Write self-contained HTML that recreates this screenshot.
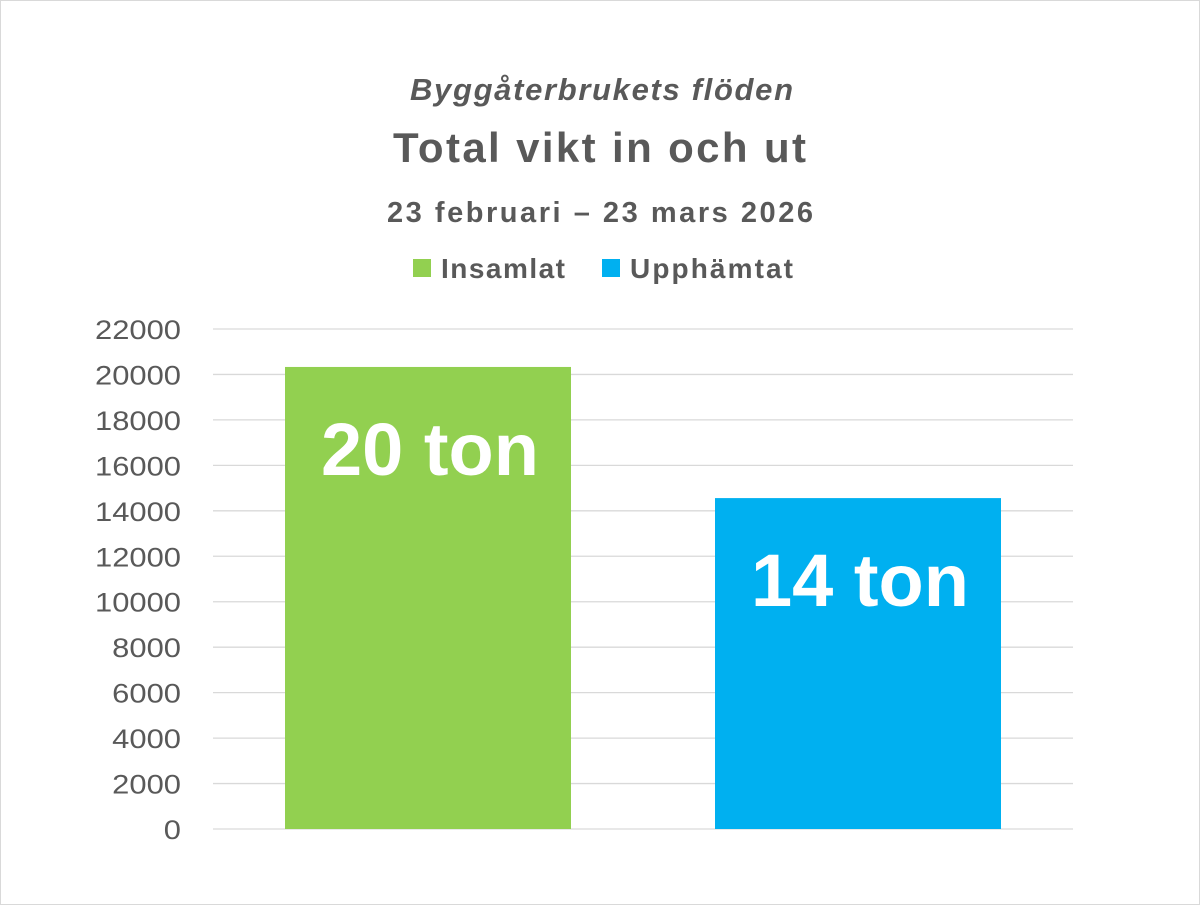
<!DOCTYPE html>
<html><head><meta charset="utf-8"><style>
body{margin:0;background:#fff;}
svg{display:block;font-family:"Liberation Sans",sans-serif;}
</style></head><body>
<svg id="chart" width="1200" height="905">
<rect x="0.5" y="0.5" width="1199" height="904" fill="#fff" stroke="#d9d9d9"/>
<text x="410" y="100" textLength="383" lengthAdjust="spacing" font-size="31" font-weight="bold" font-style="italic" fill="#595959">Byggåterbrukets flöden</text>
<text x="393" y="162" textLength="413" lengthAdjust="spacing" font-size="42" font-weight="bold" fill="#595959">Total vikt in och ut</text>
<text x="387" y="222" textLength="426" lengthAdjust="spacing" font-size="29" font-weight="bold" fill="#595959">23 februari – 23 mars 2026</text>
<g>
<rect x="413" y="259" width="18" height="18" fill="#92d050"/>
<text x="441" y="278" textLength="124" lengthAdjust="spacing" font-size="28" font-weight="bold" fill="#595959">Insamlat</text>
<rect x="602" y="259" width="18" height="18" fill="#00b0f0"/>
<text x="630" y="278" textLength="163" lengthAdjust="spacing" font-size="28" font-weight="bold" fill="#595959">Upphämtat</text>
</g>
<g id="grid"></g><g id="bars"></g>
</svg>
<script>
const categories = ["Insamlat", "Upphämtat"];
const values = [20330, 14560];
const labels = ["20 ton", "14 ton"];
const colors = ["#92d050", "#00b0f0"];
const ticks = [0,2000,4000,6000,8000,10000,12000,14000,16000,18000,20000,22000];
const NS="http://www.w3.org/2000/svg";
const x0=213,x1=1073,yb=829,yt=329,maxV=22000;
const y=v=>yb-(v/maxV)*(yb-yt);
const band=(x1-x0)/categories.length, bw=286;
const grid=document.getElementById('grid'), bars=document.getElementById('bars');
ticks.forEach(t=>{
  const l=document.createElementNS(NS,'line');
  
  
  l.setAttribute('x1',x0);l.setAttribute('x2',x1);l.setAttribute('y1',y(t));l.setAttribute('y2',y(t));
  l.setAttribute('stroke','#d9d9d9');l.setAttribute('stroke-width','1.3');
  grid.appendChild(l);
  const tx=document.createElementNS(NS,'text');
  
  
  const s=String(t), w=s.length*17.2;
  tx.setAttribute('x',181-w);tx.setAttribute('y',y(t)+10);
  tx.setAttribute('textLength',w);tx.setAttribute('lengthAdjust','spacingAndGlyphs');
  tx.setAttribute('font-size','27');tx.setAttribute('fill','#595959');
  tx.textContent=s;grid.appendChild(tx);
});
values.forEach((v,i)=>{
  const cx=x0+band*(i+0.5);
  const r=document.createElementNS(NS,'rect');
  
  
  r.setAttribute('x',cx-bw/2);r.setAttribute('y',y(v));r.setAttribute('width',bw);r.setAttribute('height',yb-y(v));
  r.setAttribute('fill',colors[i]);bars.appendChild(r);
  const t=document.createElementNS(NS,'text');
  
  
  t.setAttribute('x',cx+2);t.setAttribute('y',y(v)+108);t.setAttribute('text-anchor','middle');
  t.setAttribute('font-size','74');t.setAttribute('font-weight','bold');t.setAttribute('fill','#fff');
  t.textContent=labels[i];bars.appendChild(t);
});
</script>
</body></html>
